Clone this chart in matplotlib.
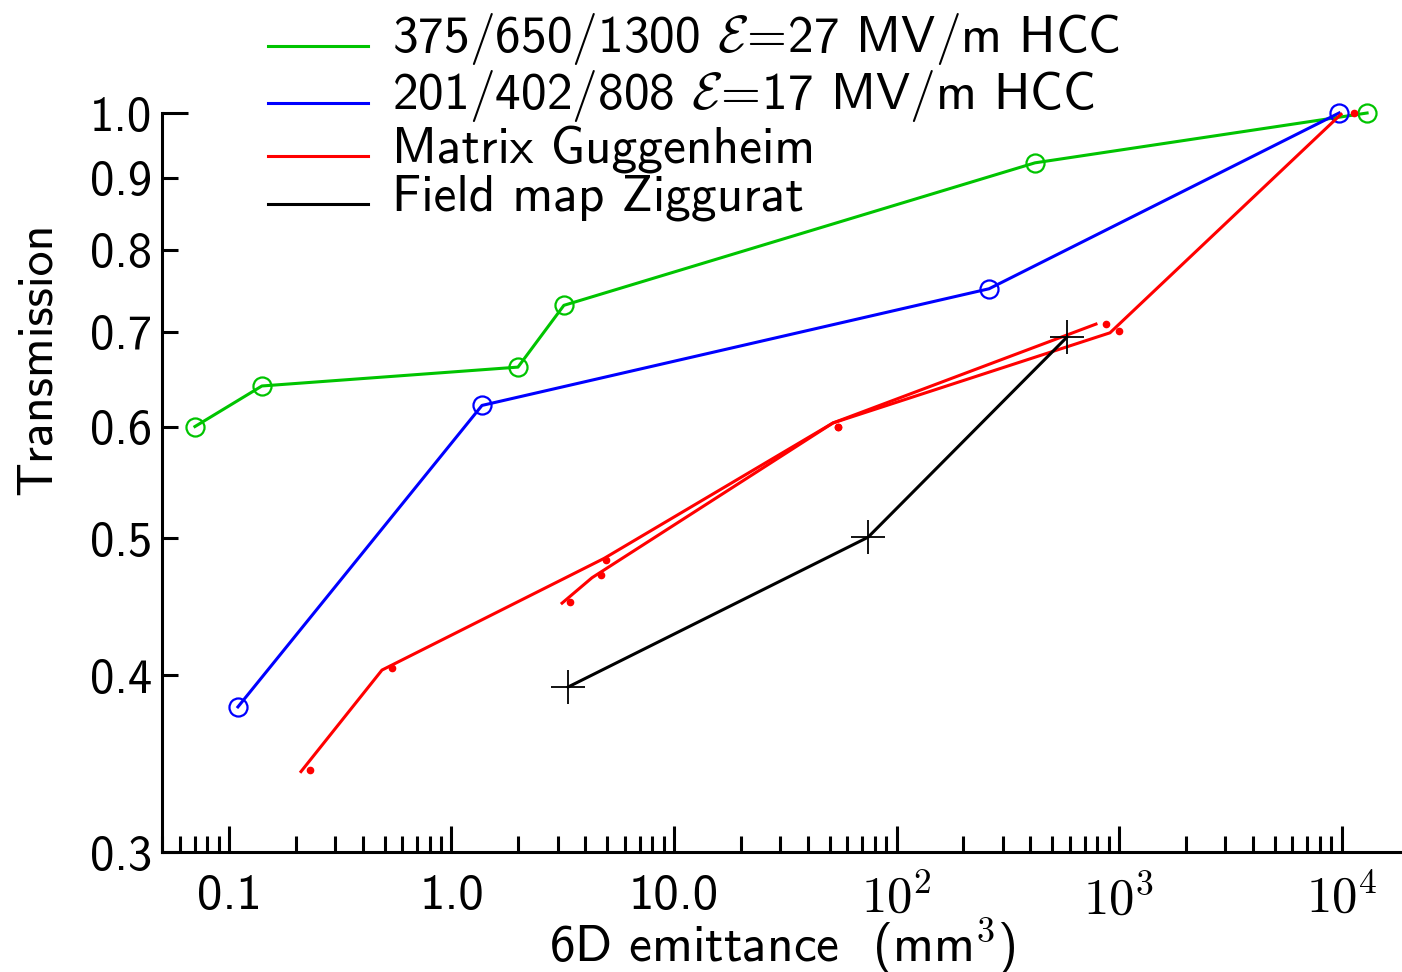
import matplotlib
matplotlib.use("Agg")
import matplotlib.pyplot as plt
from matplotlib.ticker import FixedLocator, FixedFormatter, LogLocator, NullFormatter

plt.rcParams['font.family'] = ['cmss10', 'DejaVu Sans']
plt.rcParams['mathtext.fontset'] = 'cm'
plt.rcParams['axes.unicode_minus'] = False

# 375/650/1300 MHz, 27 MV/m HCC
green_x = [0.0703, 0.1406, 1.99, 3.2, 419, 13030]
green_y = [0.600, 0.641, 0.661, 0.731, 0.922, 1.0]

# 201/402/808 MHz, 17 MV/m HCC
blue_x = [0.1097, 1.371, 260.6, 9750]
blue_y = [0.380, 0.621, 0.751, 1.0]

# Matrix Guggenheim, two lattices (lines and their points)
red_a_x = [0.2107, 0.487, 4.85, 51.8, 788]
red_a_y = [0.342, 0.4035, 0.484, 0.6035, 0.709]
red_a_pts_x = [0.231, 0.540, 4.95, 54.6, 874]
red_a_pts_y = [0.343, 0.4047, 0.483, 0.5996, 0.709]

red_b_x = [3.14, 4.28, 51.8, 911, 9950]
red_b_y = [0.450, 0.469, 0.6035, 0.699, 0.998]
red_b_pts_x = [3.41, 4.70, 54.6, 1000, 11380]
red_b_pts_y = [0.4507, 0.471, 0.5996, 0.701, 1.0]

# Field map Ziggurat
black_x = [3.34, 74.5, 583]
black_y = [0.3925, 0.501, 0.694]

x_major = [0.1, 1.0, 10.0, 100.0, 1000.0, 10000.0]
x_major_labels = ['0.1', '1.0', '10.0', '$10^2$', '$10^3$', '$10^4$']
y_major = [1.0]
y_major_labels = ['1.0']
y_minor = [0.3, 0.4, 0.5, 0.6, 0.7, 0.8, 0.9]
y_minor_labels = ['0.3', '0.4', '0.5', '0.6', '0.7', '0.8', '0.9']

GREEN = '#00c400'

fig = plt.figure(figsize=(14.02, 9.72), dpi=100)
ax = fig.add_axes([162 / 1402, 1 - 852 / 972, 1 - 162 / 1402, (852 - 113) / 972])
ax.set_xscale('log')
ax.set_yscale('log')

lw = 2.2
ax.plot(green_x, green_y, color=GREEN, lw=lw, marker='o', ms=13, mfc='none',
        mew=1.6, clip_on=False, label=r'375/650/1300 $\mathcal{E}\!=\!$27 MV/m HCC')
ax.plot(blue_x, blue_y, color='#0000ff', lw=lw, marker='o', ms=13, mfc='none',
        mew=1.6, clip_on=False, label=r'201/402/808 $\mathcal{E}\!=\!$17 MV/m HCC')
ax.plot(red_a_x, red_a_y, color='#ff0000', lw=lw, clip_on=False, label='Matrix Guggenheim')
ax.plot(red_b_x, red_b_y, color='#ff0000', lw=lw, clip_on=False)
ax.plot(red_a_pts_x, red_a_pts_y, ls='none', marker='o', ms=4.5, color='#ff0000', clip_on=False)
ax.plot(red_b_pts_x, red_b_pts_y, ls='none', marker='o', ms=4.5, color='#ff0000', clip_on=False)
ax.plot(black_x, black_y, color='black', lw=lw, marker='+', ms=25, mew=1.3,
        clip_on=False, label='Field map Ziggurat')

ax.set_xlim(0.05, 1.87e4)
ax.set_ylim(0.3, 1.0)

ax.xaxis.set_major_locator(FixedLocator(x_major))
ax.xaxis.set_major_formatter(FixedFormatter(x_major_labels))
ax.xaxis.set_minor_locator(LogLocator(base=10, subs=range(2, 10), numticks=20))
ax.xaxis.set_minor_formatter(NullFormatter())

ax.yaxis.set_major_locator(FixedLocator(y_major))
ax.yaxis.set_major_formatter(FixedFormatter(y_major_labels))
ax.yaxis.set_minor_locator(FixedLocator(y_minor))
ax.yaxis.set_minor_formatter(FixedFormatter(y_minor_labels))

for s in ['top', 'right']:
    ax.spines[s].set_visible(False)
for s in ['left', 'bottom']:
    ax.spines[s].set_linewidth(2.2)

ax.tick_params(which='both', direction='in', width=2.2)
ax.tick_params(which='major', length=18.5)
ax.tick_params(which='minor', length=11.5)
ax.tick_params(axis='x', which='both', pad=16, labelsize=36.5)
ax.tick_params(axis='y', which='both', pad=7, labelsize=35)

ax.set_xlabel(r'6D emittance  (mm$^3$)', fontsize=37, labelpad=-6)
ax.set_ylabel('Transmission', fontsize=36)
ax.yaxis.set_label_coords(-0.082, 0.668)

leg = ax.legend(loc='upper left', bbox_to_anchor=(268 / 1402, 1 - 11 / 972),
                bbox_transform=fig.transFigure, frameon=False, fontsize=37,
                borderpad=0, borderaxespad=0, labelspacing=0.02,
                handlelength=1.95, handletextpad=0.47)
# legend lines sit a little below the middle of their labels
for h in leg.legend_handles:
    h.set_marker('')
    h.set_linewidth(2.2)
    h.set_ydata([v - 8.5 for v in h.get_ydata()])

fig.savefig('out.png', dpi=100)
